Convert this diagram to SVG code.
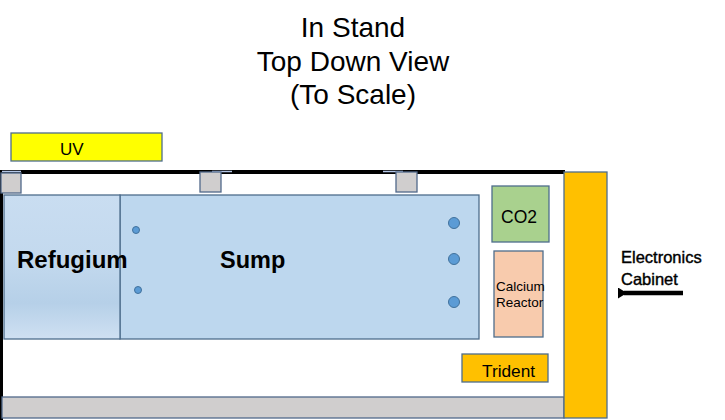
<svg xmlns="http://www.w3.org/2000/svg" width="725" height="420" viewBox="0 0 725 420">
<defs>
<style>
text{font-family:"Liberation Sans",Arial,sans-serif;fill:#000}
.box{stroke:#4e6d8c;stroke-width:1.3}
.gray{fill:#d0cece;stroke:#51698a;stroke-width:1.3}
.dot{fill:#5b9bd5;stroke:#41719c;stroke-width:1}
</style>
<linearGradient id="ref" x1="0" y1="0" x2="0" y2="1">
<stop offset="0" stop-color="#c9ddf1"/>
<stop offset="0.45" stop-color="#c3d9ee"/>
<stop offset="0.75" stop-color="#b6d0e8"/>
<stop offset="1" stop-color="#cfe0f2"/>
</linearGradient>
<marker id="ah" markerWidth="9" markerHeight="11" refX="3" refY="5.5" orient="auto" markerUnits="userSpaceOnUse" viewBox="0 0 9 11">
<path d="M9,0 L0,5.5 L9,11 Z" fill="#000"/>
</marker>
</defs>
<g id="title">
<text x="353" y="37" font-size="28" text-anchor="middle">In Stand</text>
<text x="353" y="71" font-size="28" text-anchor="middle">Top Down View</text>
<text x="353" y="104" font-size="28" text-anchor="middle">(To Scale)</text>
</g>
<g id="uv"><rect x="11" y="133" width="151" height="28" fill="#ffff00" class="box"/><text x="60" y="155" font-size="17">UV</text></g>
<g id="stand">
<rect x="0" y="170" width="565" height="4" fill="#000"/>
<rect x="0" y="170" width="3" height="250" fill="#000"/>
<rect x="2" y="397" width="562" height="21" class="gray"/>
</g>
<g id="brackets">
<line x1="2" y1="171.5" x2="21" y2="171.5" stroke="#b4c7e7" stroke-width="1.5"/>
<rect x="1" y="173" width="20" height="20" class="gray"/>
<line x1="212" y1="171.5" x2="232" y2="171.5" stroke="#b4c7e7" stroke-width="1.5"/>
<rect x="200" y="172" width="21" height="20" class="gray"/>
<line x1="383" y1="171.5" x2="403" y2="171.5" stroke="#b4c7e7" stroke-width="1.5"/>
<rect x="396" y="172" width="21" height="20" class="gray"/>
</g>
<g id="sump">
<rect x="120" y="195" width="359" height="144" fill="#bdd7ee" class="box"/>
<text x="220" y="268" font-size="23.5" font-weight="bold">Sump</text>
<circle cx="136" cy="230" r="3.5" class="dot"/>
<circle cx="138" cy="290" r="3.5" class="dot"/>
<circle cx="454" cy="223" r="5.5" class="dot"/>
<circle cx="454" cy="259" r="5.5" class="dot"/>
<circle cx="454" cy="302" r="5.5" class="dot"/>
</g>
<g id="refugium">
<rect x="4" y="195" width="116" height="144" fill="url(#ref)" class="box"/>
<text x="17" y="268" font-size="24" font-weight="bold">Refugium</text>
</g>
<g id="co2"><rect x="492" y="186" width="57" height="56" fill="#a9d18e" class="box"/><text x="501" y="223" font-size="17.5">CO2</text></g>
<g id="calcium-reactor"><rect x="494" y="251" width="49" height="86" fill="#f8cbad" class="box"/><text x="496" y="291" font-size="13.5">Calcium</text><text x="496" y="307" font-size="13.5">Reactor</text></g>
<g id="trident"><rect x="462" y="354" width="86" height="28" fill="#ffc000" class="box"/><text x="482" y="377" font-size="17.3">Trident</text></g>
<g id="cabinet"><rect x="564" y="172" width="43" height="246" fill="#ffc000" stroke="#4e6d8c" stroke-width="1.3"/></g>
<g id="cabinet-label">
<text x="621" y="263" font-size="16.5" stroke="#000" stroke-width="0.4">Electronics</text>
<text x="621" y="285" font-size="16.5" stroke="#000" stroke-width="0.4">Cabinet</text>
</g>
<g id="connectors">
<line x1="683" y1="293" x2="624" y2="293" stroke="#000" stroke-width="4.5" marker-end="url(#ah)"/>
</g>
</svg>
